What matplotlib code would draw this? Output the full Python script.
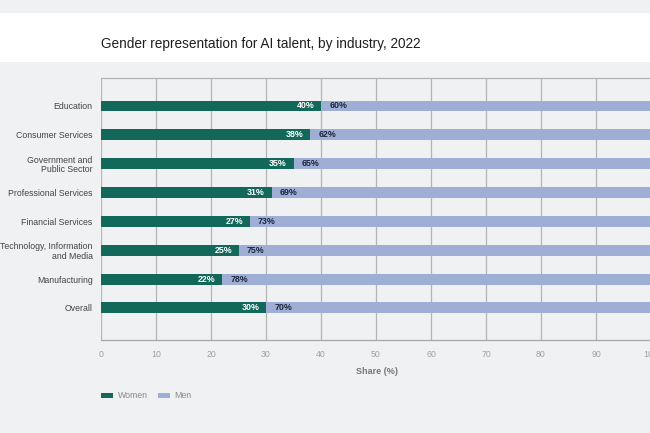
import matplotlib
matplotlib.use("Agg")
import matplotlib.pyplot as plt
from matplotlib.patches import Rectangle

categories = ["Education", "Consumer Services", "Government and\nPublic Sector",
              "Professional Services", "Financial Services",
              "Technology, Information\nand Media", "Manufacturing", "Overall"]
women = [40, 38, 35, 31, 27, 25, 22, 30]
men = [60, 62, 65, 69, 73, 75, 78, 70]
xticks = [0, 10, 20, 30, 40, 50, 60, 70, 80, 90, 100]

plt.rcParams['font.family'] = ['Liberation Sans', 'DejaVu Sans']

W, H = 650, 433
BG = "#f0f1f3"
GREEN = "#12695a"
BLUE = "#9eaed4"
fig = plt.figure(figsize=(W/100, H/100), dpi=100, facecolor=BG)

# white title band
fig.patches.append(Rectangle((0, 1-62/H), 1, 49/H, transform=fig.transFigure,
                             facecolor="white", edgecolor="none", zorder=0))

fig.text(101/W, 1-44/H, "Gender representation for AI talent, by industry, 2022",
         fontsize=9.8, color="#1e1e1e", va="center", ha="left")

ax = fig.add_axes([101/W, 1-340/H, (651-101)/W, (340-78)/H])
ax.set_facecolor(BG)
y = list(range(len(categories)))
ax.barh(y, women, height=0.38, color=GREEN, zorder=3)
ax.barh(y, men, left=women, height=0.38, color=BLUE, zorder=3)
for i, (w, m) in enumerate(zip(women, men)):
    ax.text(w - 1.2, i, f"{w}%", color="white", fontsize=6.4, fontweight="bold",
            ha="right", va="center", zorder=4)
    ax.text(w + 1.5, i, f"{m}%", color="#1d2540", fontsize=6.4, fontweight="bold",
            ha="left", va="center", zorder=4)

ax.set_xlim(0, 100)
ax.set_ylim(7 + 1.11, -0.97)
ax.set_xticks(xticks)
ax.set_xticklabels([str(t) for t in xticks], color="#a0a0a0", fontsize=6.3)
ax.set_yticks(y)
ax.set_yticklabels(categories, fontsize=6.3, color="#444444", linespacing=1.1)
ax.tick_params(axis="y", length=0, pad=6)
ax.tick_params(axis="x", length=0, pad=7)
ax.grid(axis="x", color="#b4b4b4", linewidth=0.9, zorder=1)
for s in ["left", "right"]:
    ax.spines[s].set_visible(False)
ax.spines["top"].set_color("#b4b4b4")
ax.spines["top"].set_linewidth(0.9)
ax.spines["bottom"].set_color("#a8a8a8")
ax.spines["bottom"].set_linestyle((0, (1, 0.6)))
ax.spines["bottom"].set_linewidth(0.9)

fig.text(377/W, 1-372/H, "Share (%)", fontsize=6.5, fontweight="bold", color="#777777",
         ha="center", va="center")

handles = [Rectangle((0, 0), 1, 1, facecolor=GREEN), Rectangle((0, 0), 1, 1, facecolor=BLUE)]
leg = fig.legend(handles, ["Women", "Men"], loc="center left", bbox_to_anchor=(93/W, 1-396/H),
                 ncol=2, frameon=False, fontsize=6.3, handlelength=1.4, handleheight=0.45,
                 columnspacing=1.2, handletextpad=0.5)
for t in leg.get_texts():
    t.set_color("#888888")

fig.savefig("out.png", dpi=100, facecolor=BG)
